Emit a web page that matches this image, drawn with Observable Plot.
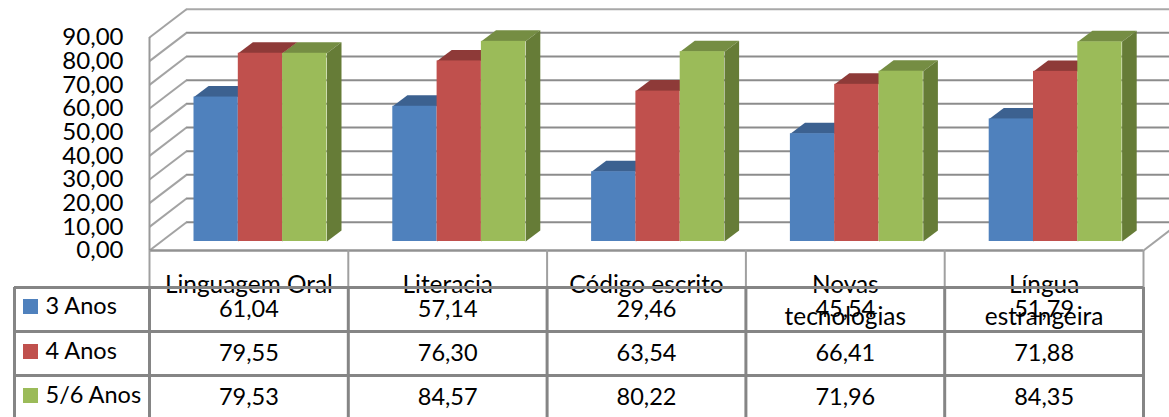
<!DOCTYPE html>
<html><head><meta charset="utf-8">
<script src="https://cdn.jsdelivr.net/npm/d3@7"></script>
<script src="https://cdn.jsdelivr.net/npm/@observablehq/plot@0.6"></script>
<style>html,body{margin:0;padding:0;background:#fff}svg{display:block}</style>
</head><body><div id="chart"></div>
<script>
const categories = ["Linguagem Oral", "Literacia", "Código escrito", "Novas\ntecnologias", "Língua\nestrangeira"];
const series = ["3 Anos", "4 Anos", "5/6 Anos"];
const anos3 = [61.04, 57.14, 29.46, 45.54, 51.79];
const anos4 = [79.55, 76.30, 63.54, 66.41, 71.88];
const anos56 = [79.53, 84.57, 80.22, 71.96, 84.35];
const valuesBySeries = [anos3, anos4, anos56];
const yTicks = [0, 10, 20, 30, 40, 50, 60, 70, 80, 90];
const frontColors = ["#4f81bd", "#c0504d", "#9bbb59"];
const topColors = ["#3c6190", "#8e3a38", "#758d43"];
const sideColors = ["#3a5e8c", "#8a3836", "#667c37"];

// Pixel-to-scale helpers for the pseudo-3D layout and the data table
const W = 1169, H = 417, L = 149, R = 1143, T = 37, B = 250;
const ux = (R - L) / 5, uy = (B - T) / 90;
const X = p => (p - L) / ux, Y = p => (B - p) / uy;
const wallDx = 37 / ux, wallDy = 28.3 / uy;
const baseDy = 9 / uy;
const depthDx = 14.6 / ux, depthDy = 11 / uy;
const barStart = 44.5 / ux, barW = 44.3 / ux;

const fmt = v => v.toFixed(2).replace(".", ",");
const font = "Lato, 'Open Sans', sans-serif";

const marks = [];
const grid = "#8c8c8c", wall = "#a3a3a3";

// back wall gridlines and left wall diagonals
marks.push(Plot.ruleY(yTicks, {
  y: d => d + wallDy, x1: wallDx, x2: X(W),
  stroke: d => d === 90 ? "#a8a8a8" : grid, strokeWidth: 2
}));
marks.push(Plot.link(yTicks, {
  x1: 0, y1: d => d, x2: wallDx, y2: d => d + wallDy, stroke: wall, strokeWidth: 2
}));
marks.push(Plot.link([0], {
  x1: 5, y1: 0, x2: X(W), y2: 20 / uy, stroke: wall, strokeWidth: 2
}));
// left wall edge
marks.push(Plot.ruleX([0], {y1: 0, y2: 90, stroke: "#999", strokeWidth: 2}));

// bars
series.forEach((s, si) => {
  const vals = valuesBySeries[si];
  const poly = [];
  vals.forEach((v, ci) => {
    const x0 = ci + barStart + si * barW, x1 = x0 + barW;
    const top = v + baseDy;
    [[x0, top], [x1, top], [x1 + depthDx, top + depthDy], [x0 + depthDx, top + depthDy]]
      .forEach(([x, y]) => poly.push({id: `t${ci}`, x, y, fill: topColors[si]}));
    [[x1, baseDy], [x1, top], [x1 + depthDx, top + depthDy], [x1 + depthDx, baseDy + depthDy]]
      .forEach(([x, y]) => poly.push({id: `s${ci}`, x, y, fill: sideColors[si]}));
  });
  marks.push(Plot.line(poly, {x: "x", y: "y", z: "id", fill: "fill", stroke: "none"}));
  marks.push(Plot.rect(vals, {
    x1: (d, i) => i + barStart + si * barW,
    x2: (d, i) => i + barStart + (si + 1) * barW,
    y1: baseDy,
    y2: d => d + baseDy,
    fill: frontColors[si]
  }));
});

// category labels (sit behind table lines, as in the reference)
marks.push(Plot.text(categories, {
  x: (d, i) => i + 0.5, y: Y(270), text: d => d, lineAnchor: "top", lineHeight: 1.31,
  fontSize: 24.4, fontFamily: font, fill: "#000"
}));

// data table values
const rowCenters = [309, 353, 397];
series.forEach((s, si) => {
  marks.push(Plot.text(valuesBySeries[si], {
    x: (d, i) => i + 0.5, y: Y(rowCenters[si]), text: d => fmt(d),
    fontSize: 23.5, fontFamily: font, fill: "#000"
  }));
});

// floor edge and column lines
marks.push(Plot.ruleY([0], {x1: 0, x2: 5, stroke: "#929292", strokeWidth: 2.5}));
marks.push(Plot.ruleX(d3.range(6), {x: d => d, y1: 0, y2: Y(287), stroke: "#a0a0a0", strokeWidth: 2}));
marks.push(Plot.ruleX(d3.range(6), {x: d => d, y1: Y(287), y2: Y(H), stroke: "#858585", strokeWidth: 3}));
marks.push(Plot.ruleX([X(14)], {y1: Y(287), y2: Y(H), stroke: "#858585", strokeWidth: 3}));
marks.push(Plot.ruleY([287, 331, 375], {y: d => Y(d), x1: X(14), x2: 5, stroke: "#858585", strokeWidth: 3}));

// legend keys in the table
const keyTops = [299, 344, 388];
marks.push(Plot.rect(series, {
  x1: X(23), x2: X(38),
  y1: (d, i) => Y(keyTops[i]), y2: (d, i) => Y(keyTops[i] + 15),
  fill: (d, i) => frontColors[i]
}));
const legendCenters = [306, 351, 395];
marks.push(Plot.text(series, {
  x: X(45), y: (d, i) => Y(legendCenters[i]), text: d => d, textAnchor: "start",
  fontSize: 23.5, fontFamily: font, fill: "#000"
}));

// y axis
marks.push(Plot.axisY(yTicks, {
  anchor: "left", tickSize: 0, tickPadding: 26, tickFormat: fmt, label: null,
  fontSize: 24, fontFamily: font, fill: "#000"
}));

const chart = Plot.plot({
  width: W, height: H,
  marginLeft: L, marginRight: W - R, marginTop: T, marginBottom: H - B,
  x: {domain: [0, 5], axis: null},
  y: {domain: [0, 90], axis: null},
  style: {background: "#fff", fontFamily: font},
  marks
});
document.getElementById("chart").appendChild(chart);
</script>
</body></html>
